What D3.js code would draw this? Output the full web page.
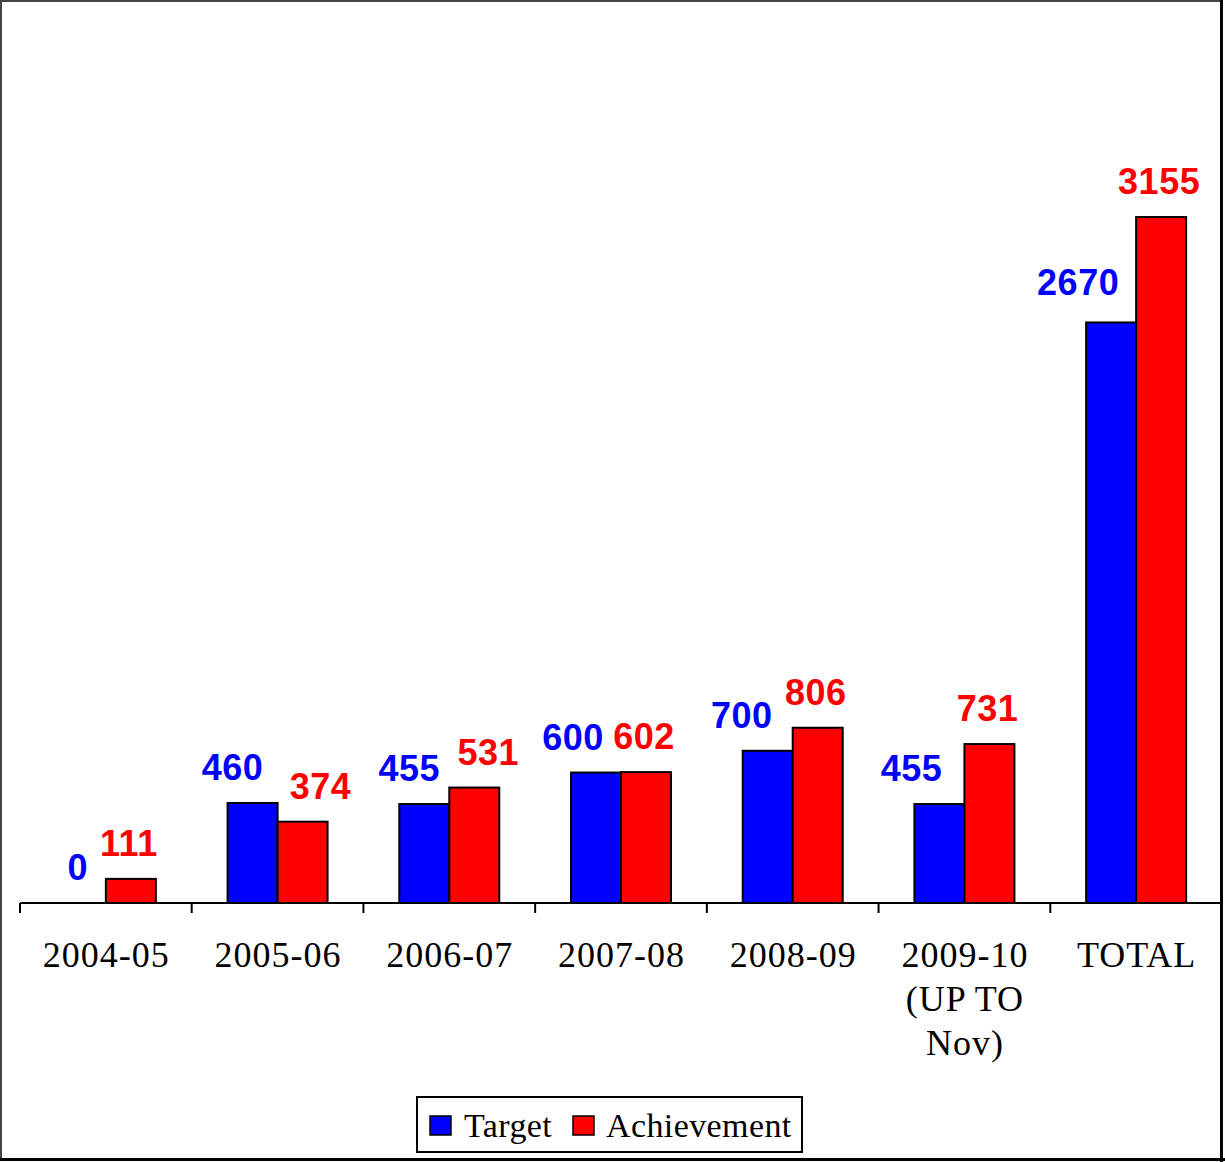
<!DOCTYPE html>
<html>
<head>
<meta charset="utf-8">
<script src="https://cdn.jsdelivr.net/npm/d3@7"></script>
<style>
  html, body { margin: 0; padding: 0; background: #fff; }
  svg { display: block; }
</style>
</head>
<body>
<script>
// ---- data ----
const categories = ["2004-05", "2005-06", "2006-07", "2007-08", "2008-09", "2009-10 (UP TO Nov)", "TOTAL"];
const seriesNames = ["Target", "Achievement"];
const targetValues = [0, 460, 455, 600, 700, 455, 2670];
const achievementValues = [111, 374, 531, 602, 806, 731, 3155];
const seriesColors = ["#0000ff", "#ff0000"];

// label nudges (layout only, as placed in the original)
const targetLabelDx = [-3, -20, -15, -23, -26, -28, -33];
const achievementLabelDx = [-2, 18, 14, -2, -2, -2, -2];

const W = 1225, H = 1162;
const svg = d3.select("body").append("svg").attr("width", W).attr("height", H);

svg.append("rect").attr("x", 0).attr("y", 0).attr("width", W).attr("height", H).attr("fill", "#fff");

// outer frame
svg.append("line").attr("x1", 1).attr("y1", 0).attr("x2", 1).attr("y2", 1160).attr("stroke", "#444").attr("stroke-width", 2);
svg.append("line").attr("x1", 0).attr("y1", 1).attr("x2", 1223).attr("y2", 1).attr("stroke", "#444").attr("stroke-width", 2);
svg.append("line").attr("x1", 1221.5).attr("y1", 0).attr("x2", 1221.5).attr("y2", 1162).attr("stroke", "#000").attr("stroke-width", 3);
svg.append("line").attr("x1", 0).attr("y1", 1159.5).attr("x2", 1225).attr("y2", 1159.5).attr("stroke", "#000").attr("stroke-width", 3);

const plotLeft = 20, plotRight = 1222, baseY = 903;
const y = d3.scaleLinear().domain([0, 3500]).range([baseY, baseY - 3500 * (686 / 3155)]);
const x0 = d3.scaleBand().domain(categories).range([plotLeft, plotRight]).paddingInner(0).paddingOuter(0);
const barW = 50;
const x1 = d3.scaleBand().domain(seriesNames).range([0, barW * 2]);

const rows = categories.map((c, i) => ({ cat: c, vals: [targetValues[i], achievementValues[i]], i }));

const g = svg.append("g");

const groups = g.selectAll("g.cat").data(rows).join("g")
  .attr("class", "cat")
  .attr("transform", d => `translate(${x0(d.cat) + x0.bandwidth() / 2 - barW},0)`);

groups.selectAll("rect").data(d => d.vals.map((v, k) => ({ v, k, i: d.i }))).join("rect")
  .filter(d => d.v > 0)
  .attr("x", d => x1(seriesNames[d.k]))
  .attr("y", d => y(d.v))
  .attr("width", x1.bandwidth())
  .attr("height", d => y(0) - y(d.v))
  .attr("fill", d => seriesColors[d.k])
  .attr("stroke", "#000")
  .attr("stroke-width", 2);

groups.selectAll("text.val").data(d => d.vals.map((v, k) => ({ v, k, i: d.i }))).join("text")
  .attr("class", "val")
  .attr("x", d => x1(seriesNames[d.k]) + x1.bandwidth() / 2 + (d.k === 0 ? targetLabelDx[d.i] : achievementLabelDx[d.i]))
  .attr("y", d => y(d.v) - (d.k === 0 && d.i === 6 ? 27 : 23))
  .attr("text-anchor", "middle")
  .attr("font-family", "'Liberation Sans', Arial, sans-serif")
  .attr("font-weight", "bold")
  .attr("font-size", 36)
  .attr("letter-spacing", 0.5)
  .attr("fill", d => seriesColors[d.k])
  .text(d => d.v);

// x axis
const axis = d3.axisBottom(x0).tickSize(0).tickFormat("");
const axG = svg.append("g").attr("transform", `translate(0,${baseY})`).call(axis);
axG.select(".domain").attr("stroke", "#000").attr("stroke-width", 2).attr("d", `M${plotLeft},0H${plotRight}`);
// boundary ticks between categories
const boundaries = categories.map(c => x0(c)).concat([plotRight]);
axG.selectAll("line.btick").data(boundaries).join("line")
  .attr("class", "btick")
  .attr("x1", d => Math.min(d, plotRight - 1)).attr("x2", d => Math.min(d, plotRight - 1))
  .attr("y1", 0).attr("y2", 10)
  .attr("stroke", "#000").attr("stroke-width", 2);

// category labels with wrapping
function wrapWords(text, maxW, ctx) {
  const words = text.split(" ");
  const lines = [];
  let cur = "";
  words.forEach(w => {
    const t = cur ? cur + " " + w : w;
    if (cur && ctx.measureText(t).width > maxW) { lines.push(cur); cur = w; }
    else cur = t;
  });
  if (cur) lines.push(cur);
  return lines;
}
const canvas = document.createElement("canvas");
const ctx = canvas.getContext("2d");
ctx.font = "36px 'Liberation Serif'";

const catLabels = svg.append("g").selectAll("text").data(categories).join("text")
  .attr("x", d => x0(d) + x0.bandwidth() / 2)
  .attr("y", 967)
  .attr("text-anchor", "middle")
  .attr("font-family", "'Liberation Serif', 'Times New Roman', serif")
  .attr("font-size", 36)
  .attr("letter-spacing", 1)
  .attr("fill", "#000");
catLabels.each(function (d) {
  const lines = wrapWords(d, 140, ctx);
  const t = d3.select(this);
  lines.forEach((ln, j) => {
    t.append("tspan").attr("x", x0(d) + x0.bandwidth() / 2 + 0.5).attr("y", 967 + j * 44).text(ln);
  });
});

// legend
const lg = svg.append("g");
lg.append("rect").attr("x", 417).attr("y", 1097).attr("width", 385).attr("height", 55)
  .attr("fill", "#fff").attr("stroke", "#000").attr("stroke-width", 2);
const legendItems = [{ name: seriesNames[0], x: 430, tx: 464 }, { name: seriesNames[1], x: 573, tx: 606 }];
legendItems.forEach((it, k) => {
  lg.append("rect").attr("x", it.x).attr("y", 1116).attr("width", 21).attr("height", 19)
    .attr("fill", seriesColors[k]).attr("stroke", "#000").attr("stroke-width", 1.5);
  lg.append("text").attr("x", it.tx).attr("y", 1137)
    .attr("font-family", "'Liberation Serif', 'Times New Roman', serif")
    .attr("font-size", 34).attr("letter-spacing", 0.4).attr("fill", "#000").text(it.name);
});
</script>
</body>
</html>
